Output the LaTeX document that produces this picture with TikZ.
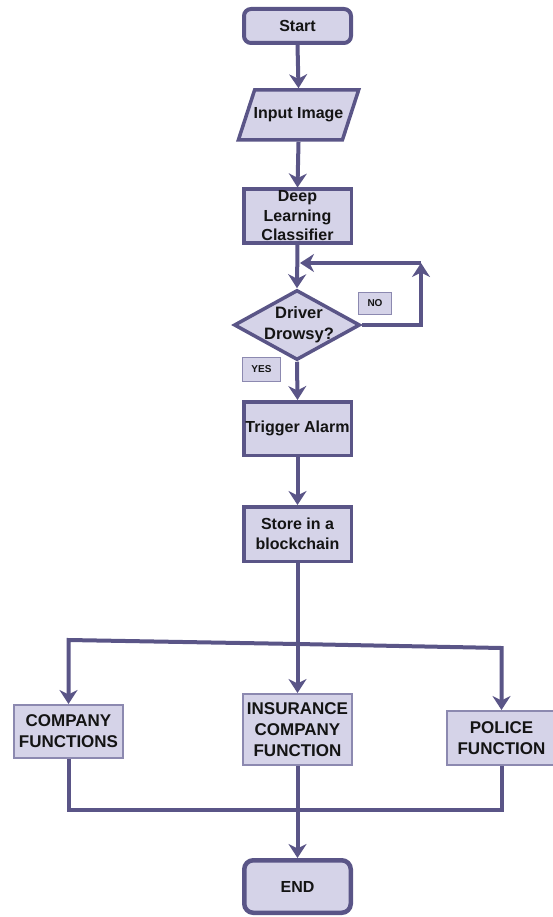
\documentclass[tikz,border=0pt]{standalone}
\usepackage{fontspec}
\setmainfont{Liberation Sans}
\usetikzlibrary{shapes.geometric,arrows.meta}

\definecolor{boxfill}{HTML}{D5D3E8}
\definecolor{boxline}{HTML}{5A5587}
\definecolor{thinline}{HTML}{8C89B0}
\definecolor{txt}{HTML}{141414}

\begin{document}
\begin{tikzpicture}[x=1pt, y=-1pt,
	flow/.style={draw=boxline, line width=4pt, -{Stealth[length=14pt,width=18pt,inset=4.5pt]}},
	wire/.style={draw=boxline, line width=4pt},
	base/.style={fill=boxfill, text=txt, font=\bfseries\fontsize{16}{19.5}\selectfont, align=center, inner sep=0pt},
	term/.style={base, draw=boxline, line width=4pt, rounded corners=7pt},
	proc/.style={base, draw=boxline, line width=3.5pt, minimum width=107.5pt, minimum height=53.5pt},
	func/.style={base, draw=thinline, line width=2pt, minimum width=109pt, font=\bfseries\fontsize{17}{21}\selectfont},
	tag/.style={base, draw=thinline, line width=1.5pt, font=\bfseries\fontsize{10}{11}\selectfont}]
	
	% ----------------------------
	% 0) Canvas
	% ----------------------------
	\useasboundingbox (0,0) rectangle (552,917);
	
	% ----------------------------
	% 1) Main column
	% ----------------------------
	\node[term, minimum width=107pt, minimum height=34pt] (start) at (297.5,26) {Start};
	% parallelogram: height set by the text box itself, so the slant stays at 72 deg
	\node[base, draw=boxline, line width=3.5pt, trapezium,
		trapezium left angle=72, trapezium right angle=108,
		text height=11.5pt, text depth=3.5pt, inner xsep=-1pt, inner ysep=17.5pt] (inp) at (298.5,115) {Input Image};
	\node[proc] (dlc) at (297.5,216) {Deep\\Learning\\Classifier};
	
	% decision (shape and text kept apart)
	\node[base, draw=boxline, line width=3.5pt, diamond, minimum width=126pt, minimum height=70pt] (dec) at (297,325) {};
	\node[text=txt, font=\bfseries\fontsize{16.5}{21}\selectfont, align=center, inner sep=0pt] (decT) at (299,325) {Driver\\Drowsy?};
	
	\node[proc] (trig) at (297.5,428.5) {Trigger Alarm};
	\node[proc, minimum height=54.5pt] (store) at (297.5,534) {Store in a\\blockchain};
	
	% ----------------------------
	% 2) Branch labels
	% ----------------------------
	\node[tag, minimum width=33pt, minimum height=22pt] (no) at (375,303.5) {NO};
	\node[tag, minimum width=38pt, minimum height=24pt] (yes) at (261.5,369.5) {YES};
	
	% ----------------------------
	% 3) Three outputs + end
	% ----------------------------
	\node[func, minimum height=53pt] (comp) at (68.5,731.5) {COMPANY\\FUNCTIONS};
	\node[func, minimum height=71pt] (ins) at (297.5,729.5) {INSURANCE\\COMPANY\\FUNCTION};
	\node[func, minimum height=54pt] (pol) at (501.5,738) {POLICE\\FUNCTION};
	\node[term, line width=4.5pt, rounded corners=9pt, minimum width=106.5pt, minimum height=52.5pt] (stop) at (297.5,886.5) {END};
	
	% ----------------------------
	% 4) Connectors
	% ----------------------------
	\draw[flow] (start.south) -- (inp.north);
	\draw[flow] (inp.south) -- (dlc.north);
	\draw[flow] (dlc.south) -- (dec.north);
	\draw[flow] (dec.south) -- (trig.north);
	\draw[flow] (trig.south) -- (store.north);
	
	% NO loop back
	\coordinate (loopC) at (421,263);
	\coordinate (loopE) at (300,263);
	\draw[flow] (dec.east) -| (loopC);
	\draw[flow] (loopC) -- (loopE);
	
	% split
	\coordinate (brL) at (68.5,640);
	\coordinate (brM) at (297.5,644);
	\coordinate (brR) at (501.5,648);
	\draw[flow] (store.south) -- (ins.north);
	\draw[flow] (brM) -- (brL) -- (comp.north);
	\draw[flow] (brM) -- (brR) -- (pol.north);
	
	% join
	\coordinate (jn) at (297.5,810);
	\draw[wire] (comp.south) -- (comp.south |- jn) -- (pol.south |- jn) -- (pol.south);
	\draw[flow] (ins.south) -- (stop.north);
	
\end{tikzpicture}
\end{document}
